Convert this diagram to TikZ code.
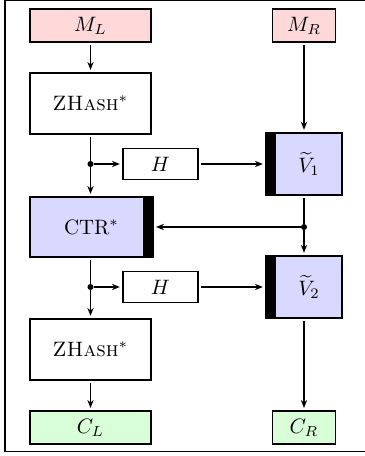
\documentclass[tikz,border=0pt]{standalone}
\usetikzlibrary{arrows.meta}

\tikzstyle{box}=[draw,semithick,inner sep=0pt,outer sep=1.5pt]
\tikzstyle{inwide}=[box,minimum width=58pt,minimum height=15.8pt]
\tikzstyle{innarrow}=[box,minimum width=30.2pt,minimum height=15.8pt]
\tikzstyle{hashbox}=[box,minimum width=58pt,minimum height=29.3pt]
\tikzstyle{hbox}=[box,minimum width=36pt,minimum height=14.9pt]
\tikzstyle{vbox}=[box,minimum width=36.5pt,minimum height=29.8pt,
  path picture={\fill[black] (path picture bounding box.south west) rectangle ([xshift=4.8pt]path picture bounding box.north west);}]
\tikzstyle{ctrbox}=[box,minimum width=59pt,minimum height=28.8pt,
  path picture={\fill[black] (path picture bounding box.south east) rectangle ([xshift=-4.8pt]path picture bounding box.north east);}]
\tikzstyle{junction}=[circle,fill,inner sep=0pt,minimum size=2.9pt]
\tikzstyle{arrowdecorate}=[->,>={Stealth[length=3.8pt,width=3pt]},semithick]
\tikzstyle{plainline}=[draw,semithick,-]

\begin{document}
\begin{tikzpicture}[x=0.48pt,y=-0.48pt]
    \useasboundingbox (0,0) rectangle (364,456);
    \draw[line width=0.6pt] (5,0.8) rectangle (370,451.5);

      \foreach \nodename/\content/\x/\y/\kind/\tint in {
        ML/{$M_L$}/90.5/25.5/inwide/red!15,
        MR/{$M_R$}/304/25.5/innarrow/red!15,
        Z1/{\textsc{ZHash}$^*$}/90.5/103.5/hashbox/white,
        H1/{$H$}/160.5/164/hbox/white,
        V1/{\hspace{4.8pt}$\widetilde{V}_1$}/304/164/vbox/blue!15,
        CTR/{CTR$^*$\hspace{4.8pt}}/91.5/227/ctrbox/blue!15,
        H2/{$H$}/160.5/287/hbox/white,
        V2/{\hspace{4.8pt}$\widetilde{V}_2$}/304/287/vbox/blue!15,
        Z2/{\textsc{ZHash}$^*$}/90.5/349.5/hashbox/white,
        CL/{$C_L$}/90.5/427.5/inwide/green!15,
        CR/{$C_R$}/304/427.5/innarrow/green!15}
      {
        \node[\kind, fill=\tint] (\nodename) at (\x,\y) {\content};
      }

      \foreach \dotname/\x/\y in {d1/90.5/164, d2/304/227, d3/90.5/287}
      {
        \node[junction] (\dotname) at (\x,\y) {};
      }

    %edges or lines
    \path
      (Z1) edge[plainline] (d1)
      (V1) edge[plainline] (d2)
      (CTR.south -| d3) edge[plainline] (d3)
      (d1) edge[arrowdecorate] (d1 |- CTR.north);

    \path
    \foreach \startnode/\endnode in {
      ML/Z1, d1/H1, H1/V1, MR/V1, d2/V2, d2/CTR, d3/H2, H2/V2, d3/Z2, Z2/CL, V2/CR}
    {
      (\startnode) edge[arrowdecorate] (\endnode)
    };

  \end{tikzpicture}
\end{document}
